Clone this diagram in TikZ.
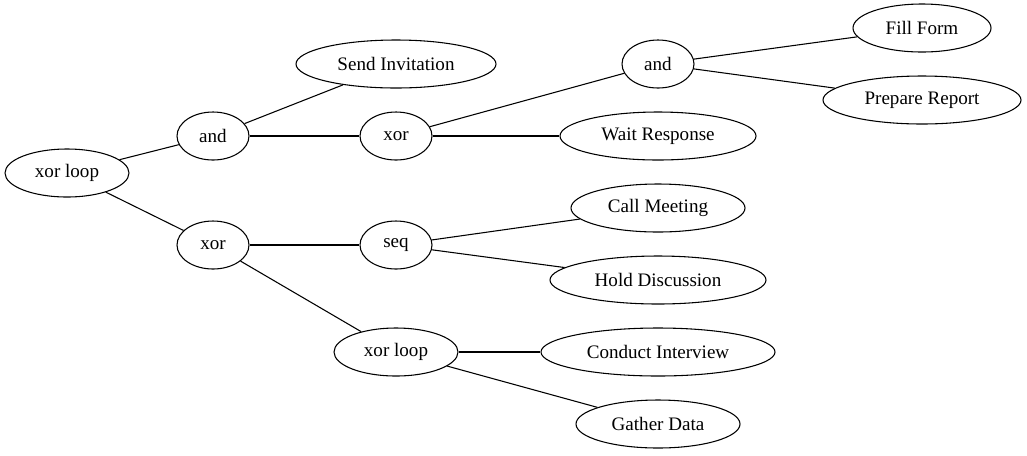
\documentclass[tikz,border=0pt]{standalone}
\usepackage{fontspec}
\setmainfont{Liberation Serif}
\usetikzlibrary{shapes.geometric}
\begin{document}
\begin{tikzpicture}[x=0.75pt, y=-0.75pt, line width=0.8pt,
  ell/.style={draw, ellipse, inner sep=0pt, minimum height=36pt, font=\fontsize{14.3}{16}\selectfont}]
\useasboundingbox (0,0) rectangle (1027,455);
\node[ell, minimum width=93pt](root)at(67,173){xor loop};
\node[ell, minimum width=54pt](and1)at(213,136){and};
\node[ell, minimum width=54pt](xor1)at(213,245){xor};
\node[ell, minimum width=150pt](send)at(396,64){Send Invitation};
\node[ell, minimum width=54pt](xor2)at(396,136){xor};
\node[ell, minimum width=54pt](seq)at(396,245){seq};
\node[ell, minimum width=93pt](loop2)at(396,352){xor loop};
\node[ell, minimum width=54pt](and2)at(658,64){and};
\node[ell, minimum width=147pt](wait)at(658,136){Wait Response};
\node[ell, minimum width=130.5pt](call)at(658,208){Call Meeting};
\node[ell, minimum width=162pt](hold)at(658,280){Hold Discussion};
\node[ell, minimum width=175.5pt](interview)at(658,352){Conduct Interview};
\node[ell, minimum width=123pt](gather)at(658,424){Gather Data};
\node[ell, minimum width=103.5pt](fill)at(922,28){Fill Form};
\node[ell, minimum width=148.5pt](report)at(922,100){Prepare Report};
\draw(root)--(and1);
\draw(root)--(xor1);
\draw(and1)--(send);
\draw(and1)--(xor2);
\draw(xor2)--(and2);
\draw(xor2)--(wait);
\draw(and2)--(fill);
\draw(and2)--(report);
\draw(xor1)--(seq);
\draw(xor1)--(loop2);
\draw(seq)--(call);
\draw(seq)--(hold);
\draw(loop2)--(interview);
\draw(loop2)--(gather);
\end{tikzpicture}
\end{document}
